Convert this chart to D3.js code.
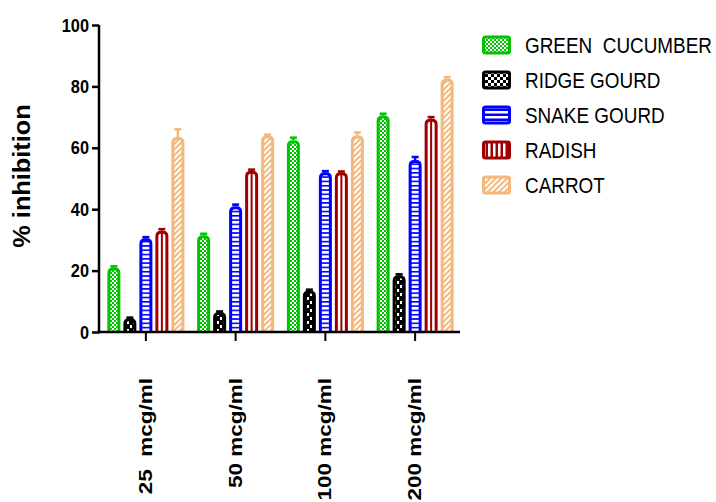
<!DOCTYPE html>
<html>
<head>
<meta charset="utf-8">
<script src="https://cdn.jsdelivr.net/npm/d3@7"></script>
<style>
  body { margin: 0; background: #fff; }
  svg { display: block; font-family: "Liberation Sans", Arial, sans-serif; }
</style>
</head>
<body>
<svg id="chart" width="716" height="502"></svg>
<script>
// data
const doses = ["25  mcg/ml", "50 mcg/ml", "100 mcg/ml", "200 mcg/ml"];
const seriesNames = ["GREEN  CUCUMBER", "RIDGE GOURD", "SNAKE GOURD", "RADISH", "CARROT"];
const greenCucumber = [21, 31.5, 62.5, 70.5];
const ridgeGourd = [4.5, 6.5, 13.5, 18.5];
const snakeGourd = [30.5, 41, 52, 56];
const radish = [33, 52.5, 52, 69.5];
const carrot = [63.5, 64, 64, 82.5];
const errGreen = [0.4, 0.5, 0.8, 0.6];
const errRidge = [0.2, 0.2, 0.3, 0.3];
const errSnake = [0.4, 0.5, 0.4, 1.0];
const errRadish = [0.5, 0.4, 0.3, 0.5];
const errCarrot = [2.5, 0.3, 1.0, 0.5];
const yTicks = [0, 20, 40, 60, 80, 100];

const colors = ["#00c400", "#000000", "#0000ff", "#a00000", "#f4b87c"];
const values = [greenCucumber, ridgeGourd, snakeGourd, radish, carrot];
const errors = [errGreen, errRidge, errSnake, errRadish, errCarrot];

const svg = d3.select("#chart");
const defs = svg.append("defs");

// shrink / stretch text to mimic the stretched original
function squeeze(sel, k) {
  sel.each(function() {
    const w = this.getComputedTextLength();
    d3.select(this).attr("textLength", w * k).attr("lengthAdjust", "spacingAndGlyphs");
  });
}

// ---- fill patterns ----
let p = defs.append("pattern").attr("id", "pat0").attr("patternUnits", "userSpaceOnUse")
  .attr("width", 4).attr("height", 4);
p.append("rect").attr("width", 4).attr("height", 4).attr("fill", colors[0]);
p.append("rect").attr("x", 0).attr("y", 0).attr("width", 2).attr("height", 2).attr("fill", "#fff");
p.append("rect").attr("x", 2).attr("y", 2).attr("width", 2).attr("height", 2).attr("fill", "#fff");

p = defs.append("pattern").attr("id", "pat1").attr("patternUnits", "userSpaceOnUse")
  .attr("width", 6).attr("height", 8);
p.append("rect").attr("width", 6).attr("height", 8).attr("fill", "#000");
p.append("rect").attr("x", 1).attr("y", 1).attr("width", 2).attr("height", 3).attr("fill", "#fff");
p.append("rect").attr("x", 4).attr("y", 5).attr("width", 2).attr("height", 3).attr("fill", "#fff");

p = defs.append("pattern").attr("id", "pat2").attr("patternUnits", "userSpaceOnUse")
  .attr("width", 4).attr("height", 4.3);
p.append("rect").attr("width", 4).attr("height", 4.3).attr("fill", "#fff");
p.append("rect").attr("width", 4).attr("height", 1.6).attr("fill", colors[2]);

p = defs.append("pattern").attr("id", "pat3").attr("patternUnits", "objectBoundingBox")
  .attr("patternContentUnits", "objectBoundingBox").attr("width", 1).attr("height", 1);
p.append("rect").attr("width", 1).attr("height", 1).attr("fill", "#fff");
p.append("rect").attr("x", 0.4).attr("width", 0.2).attr("height", 1).attr("fill", colors[3]);

p = defs.append("pattern").attr("id", "pat4").attr("patternUnits", "userSpaceOnUse")
  .attr("width", 4).attr("height", 4).attr("patternTransform", "rotate(45)");
p.append("rect").attr("width", 4).attr("height", 4).attr("fill", "#fff");
p.append("rect").attr("width", 2).attr("height", 4).attr("fill", colors[4]);

// legend versions where the swatch looks different
p = defs.append("pattern").attr("id", "leg2").attr("patternUnits", "userSpaceOnUse")
  .attr("width", 5).attr("height", 5);
p.append("rect").attr("width", 5).attr("height", 5).attr("fill", colors[2]);
p.append("rect").attr("y", 1).attr("width", 5).attr("height", 2.5).attr("fill", "#fff");

p = defs.append("pattern").attr("id", "leg3").attr("patternUnits", "userSpaceOnUse")
  .attr("width", 5).attr("height", 5);
p.append("rect").attr("width", 5).attr("height", 5).attr("fill", colors[3]);
p.append("rect").attr("x", 1).attr("width", 2.5).attr("height", 5).attr("fill", "#fff");

p = defs.append("pattern").attr("id", "leg1").attr("patternUnits", "userSpaceOnUse")
  .attr("width", 6).attr("height", 6);
p.append("rect").attr("width", 6).attr("height", 6).attr("fill", "#000");
p.append("rect").attr("x", 0).attr("y", 0).attr("width", 3).attr("height", 3).attr("fill", "#fff");
p.append("rect").attr("x", 3).attr("y", 3).attr("width", 3).attr("height", 3).attr("fill", "#fff");

const legendFill = ["url(#pat0)", "url(#leg1)", "url(#leg2)", "url(#leg3)", "url(#pat4)"];

// ---- scales ----
const x = d3.scaleBand().domain(doses).range([101, 460]).padding(0);
const y = d3.scaleLinear().domain([0, 100]).range([332, 25]);
const barStep = 16;

// ---- bars ----
const barW = 10, sw = 3, r = 4;
function barPath(cx, v) {
  const x0 = cx - barW / 2, x1 = cx + barW / 2;
  const top = y(v) + sw / 2, bot = y(0);
  return `M${x0},${bot} V${top + r} Q${x0},${top} ${x0 + r},${top} H${x1 - r} Q${x1},${top} ${x1},${top + r} V${bot}`;
}

const bars = [];
values.forEach((vals, s) => {
  vals.forEach((v, g) => {
    bars.push({ s, g, v, e: errors[s][g], cx: x(doses[g]) + x.bandwidth() / 2 + (s - 2) * barStep });
  });
});

const gBars = svg.append("g");
gBars.selectAll("path.bar")
  .data(bars)
  .join("path")
  .attr("class", "bar")
  .attr("d", d => barPath(d.cx, d.v))
  .attr("fill", d => `url(#pat${d.s})`)
  .attr("stroke", d => colors[d.s])
  .attr("stroke-width", sw)
  .attr("stroke-linejoin", "round");

// error bars (upper only)
gBars.selectAll("g.err")
  .data(bars)
  .join("g")
  .attr("class", "err")
  .each(function(d) {
    const g = d3.select(this);
    const col = colors[d.s];
    g.append("line").attr("x1", d.cx).attr("x2", d.cx)
      .attr("y1", y(d.v)).attr("y2", y(d.v + d.e))
      .attr("stroke", col).attr("stroke-width", 2.5);
    g.append("line").attr("x1", d.cx - 3.5).attr("x2", d.cx + 3.5)
      .attr("y1", y(d.v + d.e)).attr("y2", y(d.v + d.e))
      .attr("stroke", col).attr("stroke-width", 2.5);
  });

// ---- axes ----
const yAxis = svg.append("g").attr("transform", "translate(99,0)")
  .call(d3.axisLeft(y).tickValues(yTicks).tickSize(7).tickPadding(3));
yAxis.select(".domain").attr("stroke", "#000").attr("stroke-width", 2.5)
  .attr("d", `M0,${y(100)}V${y(0) + 1.25}`);
yAxis.selectAll(".tick line").attr("stroke-width", 2.5);
yAxis.selectAll(".tick text")
  .attr("font-size", 19).attr("font-weight", "bold").attr("fill", "#000")
  .attr("font-family", "'Liberation Sans', Arial, sans-serif")
  .call(squeeze, 0.86);

const xAxis = svg.append("g").attr("transform", `translate(0,${y(0)})`)
  .call(d3.axisBottom(x).tickSize(9).tickFormat(""));
xAxis.select(".domain").attr("stroke", "#000").attr("stroke-width", 2.5)
  .attr("d", "M97.75,0H460");
xAxis.selectAll(".tick line").attr("stroke-width", 2);

// rotated dose labels
svg.append("g").selectAll("text")
  .data(doses)
  .join("text")
  .attr("transform", d => `translate(${x(d) + x.bandwidth() / 2 + 6},378) rotate(-90)`)
  .attr("text-anchor", "end")
  .attr("font-size", 18)
  .attr("font-weight", "bold")
  .style("white-space", "pre")
  .text(d => d)
  .call(squeeze, 1.25);

// y title
svg.append("text")
  .attr("transform", "translate(30,176) rotate(-90)")
  .attr("text-anchor", "middle")
  .attr("font-size", 23)
  .attr("font-weight", "bold")
  .text("% inhibition")
  .call(squeeze, 1.1);

// ---- legend ----
const legend = svg.append("g").selectAll("g")
  .data(seriesNames)
  .join("g")
  .attr("transform", (d, i) => `translate(482,${45 + i * 35})`);
legend.append("rect")
  .attr("x", 1.5).attr("y", -8).attr("width", 26).attr("height", 16).attr("rx", 2)
  .attr("fill", (d, i) => legendFill[i])
  .attr("stroke", (d, i) => colors[i])
  .attr("stroke-width", 3);
// narrow glyphs via a horizontal scale instead of textLength
legend.append("text")
  .attr("transform", "translate(43,8) scale(0.86,1)")
  .attr("font-size", 22)
  .style("white-space", "pre")
  .text(d => d);
</script>
</body>
</html>
